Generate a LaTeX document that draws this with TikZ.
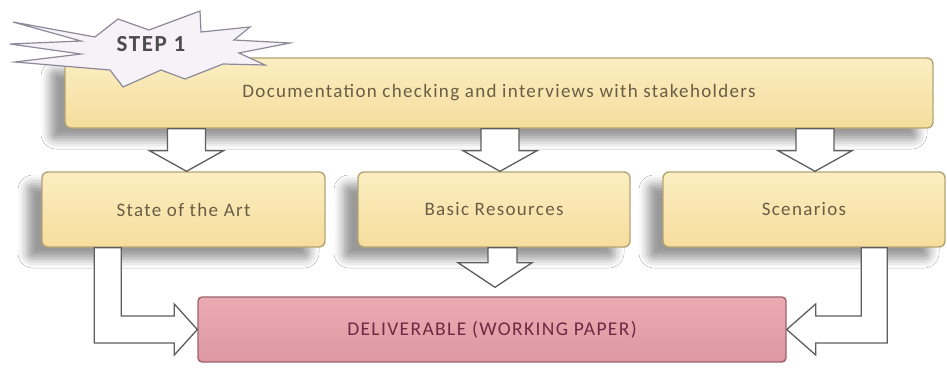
\documentclass[tikz,border=0pt]{standalone}
\usepackage{fontspec}
\setmainfont{Carlito}
\newfontfamily\boxfont[LetterSpace=7]{Carlito}
\usetikzlibrary{calc,shadows.blur}

\definecolor{paleTop}{HTML}{FBEEC2}
\definecolor{paleBot}{HTML}{F6DD9C}
\definecolor{paleLine}{HTML}{B5A473}
\definecolor{paleText}{HTML}{6B5D45}
\definecolor{roseTop}{HTML}{EBABB3}
\definecolor{roseBot}{HTML}{DD98A0}
\definecolor{roseLine}{HTML}{9C6470}
\definecolor{roseText}{HTML}{6E2B45}
\definecolor{arrowLine}{HTML}{5E5E5E}
\definecolor{starFill}{HTML}{F7F1F8}
\definecolor{starLine}{HTML}{8C8A99}

\tikzset{
  taskbox/.style={draw=paleLine, line width=1.4pt, rounded corners=6pt,
    top color=paleTop, bottom color=paleBot, text=paleText,
    font=\boxfont\fontsize{19}{22}\selectfont, inner sep=0pt,
    blur shadow={shadow xshift=-15pt, shadow yshift=-12pt,
      shadow blur radius=9pt, shadow opacity=40}},
  outbox/.style={draw=roseLine, line width=1.4pt, rounded corners=4pt,
    top color=roseTop, bottom color=roseBot, text=roseText,
    font=\boxfont\fontsize{19.5}{22}\selectfont, inner sep=0pt},
  blockarrow/.style={draw=arrowLine, line width=1.3pt, fill=white, line join=miter},
  burst/.style={draw=starLine, line width=1.2pt, fill=starFill, line join=miter},
  burstlabel/.style={font=\boxfont\bfseries\fontsize{23}{26}\selectfont, text=black!70}
}

\begin{document}
\begin{tikzpicture}[x=1pt, y=-1pt]
\useasboundingbox (0,0) rectangle (947,367);
\fill[white] (0,0) rectangle (947,367);

% main task and its three outcomes
\node[taskbox, minimum width=868pt, minimum height=70pt] (top) at (499,93)
  {Documentation checking and interviews with stakeholders};
\node[taskbox, minimum width=283pt, minimum height=75pt] (soa) at (183.5,209.5)
  {State of the Art};
\node[taskbox, minimum width=272pt, minimum height=75pt] (basic) at (494,209.5)
  {Basic Resources};
\node[taskbox, minimum width=282pt, minimum height=75pt] (scen) at (804,209.5)
  {Scenarios};

% deliverable
\node[outbox, minimum width=588pt, minimum height=65pt] (deliv) at (492,329.5)
  {DELIVERABLE (WORKING PAPER)};

% down arrows from the main task
\foreach \n/\dx in {soa/3, basic/6, scen/11}{
  \draw[blockarrow] ($(\n.north |- top.south)+(\dx-19,0)$) -- ++(0,22) -- ++(-18,0)
    -- ($(\n.north)+(\dx,0)$) -- ($(\n.north |- top.south)+(\dx+37,22)$)
    -- ++(-18,0) -- ++(0,-22) -- cycle;
}

% down arrow from Basic Resources to the deliverable
\draw[blockarrow] ($(basic.south)+(-6,0)$) -- ++(0,15) -- ++(-30,0)
  -- ($(basic.south |- deliv.north)+(1,-9)$) -- ($(basic.south)+(38,15)$)
  -- ++(-15,0) -- ++(0,-15) -- cycle;

% elbow arrow from State of the Art
\draw[blockarrow] ($(soa.south west)+(53,0)$) -- ($(soa.south west |- deliv.west)+(53,13.5)$)
  -- ($(deliv.west)+(-23,13.5)$) -- ++(0,12) -- (deliv.west)
  -- ($(deliv.west)+(-23,-25.5)$) -- ++(0,12)
  -- ($(soa.south west |- deliv.west)+(80,-13.5)$) -- ($(soa.south west)+(80,0)$) -- cycle;

% elbow arrow from Scenarios
\draw[blockarrow] ($(scen.south west)+(225,0)$) -- ($(scen.south west |- deliv.east)+(225,13.5)$)
  -- ($(deliv.east)+(29,13.5)$) -- ++(0,12) -- (deliv.east)
  -- ($(deliv.east)+(29,-25.5)$) -- ++(0,12)
  -- ($(scen.south west |- deliv.east)+(199,-13.5)$) -- ($(scen.south west)+(199,0)$) -- cycle;

% step burst behind its label
\coordinate (step) at (151,44);
\draw[burst] ($(step)+(-138,-22)$) -- ($(step)+(-56,-7)$) -- ($(step)+(-33,-25)$)
  -- ($(step)+(-2,-14)$) -- ($(step)+(49,-33)$) -- ($(step)+(50,-12)$)
  -- ($(step)+(99,-17)$) -- ($(step)+(83,-4)$) -- ($(step)+(139,-1)$)
  -- ($(step)+(88,9)$) -- ($(step)+(114,21)$) -- ($(step)+(72,20)$)
  -- ($(step)+(34,35)$) -- ($(step)+(10,26)$) -- ($(step)+(-28,43)$)
  -- ($(step)+(-41,26)$) -- ($(step)+(-136,18)$) -- ($(step)+(-70,10)$)
  -- ($(step)+(-141,0)$) -- ($(step)+(-70,-3)$) -- cycle;
\node[burstlabel] (steplabel) at (step) {STEP 1};
\end{tikzpicture}
\end{document}
